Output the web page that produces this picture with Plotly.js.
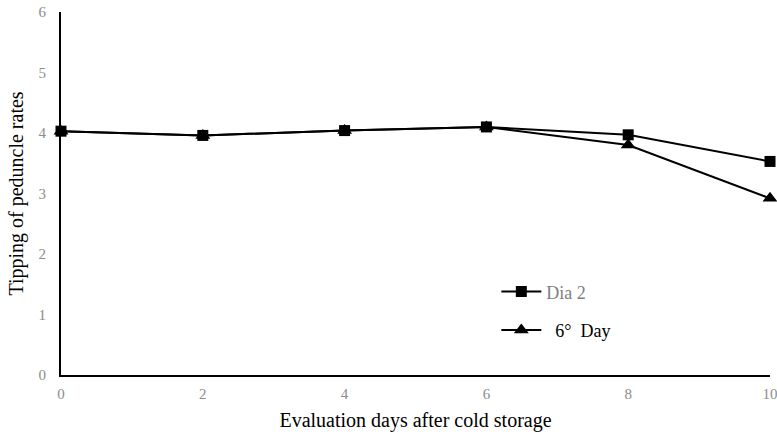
<!DOCTYPE html>
<html><head><meta charset="utf-8">
<script src="https://cdn.plot.ly/plotly-3.0.1.min.js"></script>
<style>html,body{margin:0;padding:0;background:#fff}</style>
</head><body><div id="chart" style="width:777px;height:434px"></div>
<script>
const days = [0, 2, 4, 6, 8, 10];
const dia2 = [4.03, 3.96, 4.04, 4.10, 3.97, 3.53];
const day6 = [4.03, 3.96, 4.04, 4.10, 3.80, 2.92];
const seriesNames = ['<span style="color:#7f7f7f">Dia 2</span>', '\u00a0\u00a06°\u00a0 Day'];

const traces = [
  {x: days, y: dia2, name: seriesNames[0], mode: 'lines+markers', legendgroup: 'a',
   line: {color: '#000', width: 2}, marker: {symbol: 'square', size: 11, color: '#000'}, cliponaxis: false},
  {x: days, y: day6, name: seriesNames[1], mode: 'lines+markers', legendgroup: 'b',
   line: {color: '#000', width: 2}, marker: {symbol: 'triangle-up', size: 13, color: '#000'}, cliponaxis: false}
];
const layout = {
  width: 777, height: 434,
  margin: {l: 61, r: 7, t: 12, b: 59},
  paper_bgcolor: '#fff', plot_bgcolor: '#fff',
  font: {family: 'Liberation Serif', color: '#000'},
  showlegend: true,
  legend: {x: 0.614, y: 0.28, xanchor: 'left', yanchor: 'top', bgcolor: 'rgba(0,0,0,0)', itemwidth: 40,
           font: {size: 18, color: '#000', family: 'Liberation Serif'}, traceorder: 'grouped', tracegroupgap: 12},
  xaxis: {range: [0, 10], dtick: 2, tick0: 0, showgrid: false, zeroline: false,
          showline: true, linecolor: '#000', linewidth: 2, ticks: '', ticklabelstandoff: 4,
          ticklabeloverflow: 'allow',
          tickfont: {size: 15, color: '#8c8c8c', family: 'Liberation Serif'},
          title: {text: 'Evaluation days after cold storage', font: {size: 20, color: '#000', family: 'Liberation Serif'}, standoff: 12}},
  yaxis: {range: [0, 6], dtick: 1, tick0: 0, showgrid: false, zeroline: false,
          showline: true, linecolor: '#000', linewidth: 2, ticks: '', ticklabelstandoff: 10,
          tickfont: {size: 15, color: '#8c8c8c', family: 'Liberation Serif'},
          title: {text: 'Tipping of peduncle rates', font: {size: 20, color: '#000', family: 'Liberation Serif'}, standoff: 10}}
};
Plotly.newPlot('chart', traces, layout, {displayModeBar: false, staticPlot: true});
</script></body></html>
